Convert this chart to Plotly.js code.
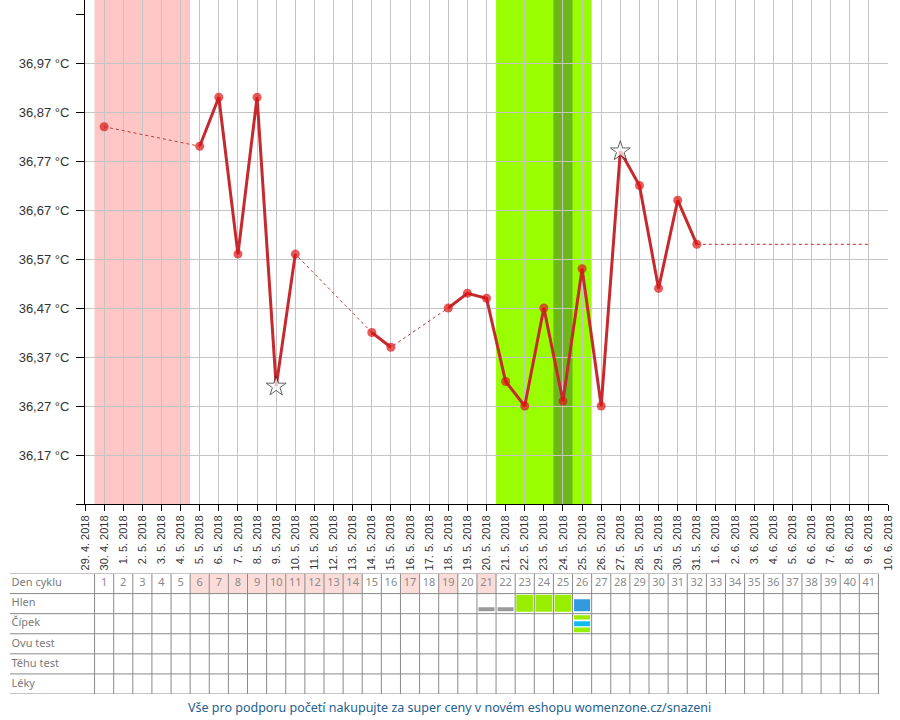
<!DOCTYPE html>
<html>
<head>
<meta charset="utf-8">
<script src="https://cdn.plot.ly/plotly-3.0.1.min.js"></script>
<style>
  html, body { margin: 0; padding: 0; background: #fff; }
  #chart { width: 900px; height: 720px; }
</style>
</head>
<body>
<div id="chart"></div>
<script>
// ---------- DATA ----------
const dayLabels = [
  '29. 4. 2018','30. 4. 2018',
  '1. 5. 2018','2. 5. 2018','3. 5. 2018','4. 5. 2018','5. 5. 2018','6. 5. 2018','7. 5. 2018',
  '8. 5. 2018','9. 5. 2018','10. 5. 2018','11. 5. 2018','12. 5. 2018','13. 5. 2018','14. 5. 2018',
  '15. 5. 2018','16. 5. 2018','17. 5. 2018','18. 5. 2018','19. 5. 2018','20. 5. 2018','21. 5. 2018',
  '22. 5. 2018','23. 5. 2018','24. 5. 2018','25. 5. 2018','26. 5. 2018','27. 5. 2018','28. 5. 2018',
  '29. 5. 2018','30. 5. 2018','31. 5. 2018',
  '1. 6. 2018','2. 6. 2018','3. 6. 2018','4. 6. 2018','5. 6. 2018','6. 6. 2018','7. 6. 2018',
  '8. 6. 2018','9. 6. 2018','10. 6. 2018'
];
// basal temperature per date (null = not measured)
const temps = [
  null, 36.84,
  null, null, null, null, 36.80, 36.90, 36.58,
  36.90, 36.31, 36.58, null, null, null, 36.42,
  36.39, null, null, 36.47, 36.50, 36.49, 36.32,
  36.27, 36.47, 36.28, 36.55, 36.27, 36.79, 36.72,
  36.51, 36.69, 36.60,
  null, null, null, null, null, null, null,
  null, null, null
];
const starDays = ['9. 5. 2018', '27. 5. 2018'];
const projectionEnd = '9. 6. 2018';

const yTickVals   = [36.07, 36.17, 36.27, 36.37, 36.47, 36.57, 36.67, 36.77, 36.87, 36.97];
const yTickLabels = ['', '36,17 °C', '36,27 °C', '36,37 °C', '36,47 °C', '36,57 °C', '36,67 °C', '36,77 °C', '36,87 °C', '36,97 °C'];
const yMinorTick  = [37.07];

const cycleDays = [1,2,3,4,5,6,7,8,9,10,11,12,13,14,15,16,17,18,19,20,
                   21,22,23,24,25,26,27,28,29,30,31,32,33,34,35,36,37,38,39,40,41];
const periodDays = [1,2,3,4,5];
const fertileDays = [22,23,24,25,26];
const ovulationDays = [25];
const markedDays = [6,7,8,9,10,11,12,13,14,17,19,21];   // pink cells in "Den cyklu"

const rowLabels = ['Den cyklu', 'Hlen', 'Čípek', 'Ovu test', 'Těhu test', 'Léky'];
const hlenDays  = [21, 22, 23, 24, 25, 26];
const hlenKinds = ['gray', 'gray', 'green', 'green', 'green', 'blue'];
const cipekDays  = [26];
const cipekKinds = [['green', 'cyan', 'green']];

const footerText = 'Vše pro podporu početí nakupujte za super ceny v novém eshopu womenzone.cz/snazeni';

// ---------- GEOMETRY / STYLE ----------
const W = 900, H = 720;
const margin = {l: 10, r: 12, t: 0, b: 26};
const paperW = W - margin.l - margin.r;
const paperH = H - margin.t - margin.b;
const plotLeftPx = 85;                 // y axis line position in page px
const plotBottomPx = 504;
const tableTopPx = 573.5;
const footerPx = 708;
const nIntervals = dayLabels.length - 1;
const mainDomainX0 = (plotLeftPx - margin.l) / paperW;
const pxPerDay = (paperW - (plotLeftPx - margin.l)) / nIntervals;
const tableLeft = -(plotLeftPx - margin.l) / pxPerDay;
const tableRight = cycleDays[cycleDays.length - 1] + 0.5;

const styleHlen = {
  gray:  {x: 0.42, y0: 0.68, y1: 0.88, color: '#9a9a9a'},
  green: {x: 0.44, y0: 0.06, y1: 0.90, color: '#99ee00'},
  blue:  {x: 0.42, y0: 0.28, y1: 0.88, color: '#3399dd'}
};
const cipekStripes = [[0.08, 0.29], [0.38, 0.63], [0.69, 0.93]];
const cipekColors = {green: '#99ee00', cyan: '#11bbee'};

// ---------- TRACES ----------
const measuredIdx = temps.map((v, i) => v == null ? -1 : i).filter(i => i >= 0);
const lastIdx = measuredIdx[measuredIdx.length - 1];

const dotted = {
  x: dayLabels, y: temps, type: 'scatter', mode: 'lines', connectgaps: true,
  line: {color: '#c03a3a', width: 1, dash: 'dot'}, hoverinfo: 'skip', showlegend: false
};
const projection = {
  x: [dayLabels[lastIdx], projectionEnd], y: [temps[lastIdx], temps[lastIdx]],
  type: 'scatter', mode: 'lines',
  line: {color: '#d85050', width: 1.3, dash: 'dot'}, hoverinfo: 'skip', showlegend: false
};
const solid = {
  x: dayLabels, y: temps, type: 'scatter', mode: 'lines', connectgaps: false,
  line: {color: '#c62a2e', width: 3}, hoverinfo: 'skip', showlegend: false
};
const mx = measuredIdx.map(i => dayLabels[i]);
const my = measuredIdx.map(i => temps[i]);
const isStar = mx.map(d => starDays.includes(d));
const markers = {
  x: mx, y: my, type: 'scatter', mode: 'markers', showlegend: false, hoverinfo: 'skip',
  marker: {
    symbol: isStar.map(s => s ? 'star' : 'circle'),
    size: isStar.map(s => s ? 15 : 9),
    color: isStar.map(s => s ? '#ffffff' : '#dd1414'),
    line: {color: isStar.map(s => s ? '#222222' : '#dd1414'), width: isStar.map(s => s ? 1 : 0)}
  }
};

const tableNumbers = {
  x: cycleDays, y: cycleDays.map(() => 0.5), text: cycleDays.map(String),
  type: 'scatter', mode: 'text', xaxis: 'x2', yaxis: 'y2',
  textfont: {family: 'Noto Sans, DejaVu Sans, sans-serif', size: 11, color: '#8a8a8a'},
  textposition: 'middle center', hoverinfo: 'skip', showlegend: false
};
const tableLabels = {
  x: rowLabels.map(() => tableLeft + 0.08), y: rowLabels.map((_, r) => r + 0.5), text: rowLabels,
  type: 'scatter', mode: 'text', xaxis: 'x2', yaxis: 'y2',
  textfont: {family: 'Noto Sans, DejaVu Sans, sans-serif', size: 11, color: '#7a7a7a'},
  textposition: 'middle right', hoverinfo: 'skip', showlegend: false
};

// ---------- SHAPES ----------
const shapes = [];
function band(days, color) {
  shapes.push({type: 'rect', xref: 'x', yref: 'y domain',
    x0: Math.min(...days) - 0.5, x1: Math.max(...days) + 0.5, y0: 0, y1: 1,
    fillcolor: color, line: {width: 0}, layer: 'below'});
}
band(periodDays, '#ffc6c6');
band(fertileDays, '#99ff00');
band(ovulationDays, '#6cb818');

markedDays.forEach(d => shapes.push({type: 'rect', xref: 'x2', yref: 'y2',
  x0: d - 0.5, x1: d + 0.5, y0: 0, y1: 1, fillcolor: '#fcdcd8', line: {width: 0}, layer: 'below'}));

hlenDays.forEach((d, i) => {
  const s = styleHlen[hlenKinds[i]];
  shapes.push({type: 'rect', xref: 'x2', yref: 'y2',
    x0: d - s.x, x1: d + s.x, y0: 1 + s.y0, y1: 1 + s.y1,
    fillcolor: s.color, line: {width: 0}});
});
cipekDays.forEach((d, i) => {
  cipekKinds[i].forEach((k, j) => shapes.push({type: 'rect', xref: 'x2', yref: 'y2',
    x0: d - 0.42, x1: d + 0.42, y0: 2 + cipekStripes[j][0], y1: 2 + cipekStripes[j][1],
    fillcolor: cipekColors[k], line: {width: 0}}));
});

for (let r = 0; r <= rowLabels.length; r++) {
  shapes.push({type: 'line', xref: 'x2', yref: 'y2', x0: tableLeft, x1: tableRight, y0: r, y1: r,
    line: {color: '#8a8a8a', width: 1}});
}
cycleDays.concat([cycleDays[cycleDays.length - 1] + 1]).forEach(d => shapes.push({
  type: 'line', xref: 'x2', yref: 'y2', x0: d - 0.5, x1: d - 0.5, y0: 0, y1: rowLabels.length,
  line: {color: '#8a8a8a', width: 1}}));

// ---------- LAYOUT ----------
const axisFont = {family: 'Liberation Sans, Arial, sans-serif', color: '#333'};
const layout = {
  width: W, height: H, margin: margin,
  paper_bgcolor: '#ffffff', plot_bgcolor: 'rgba(0,0,0,0)',
  showlegend: false,
  xaxis: {
    type: 'category', categoryorder: 'array', categoryarray: dayLabels,
    domain: [mainDomainX0, 1], range: [0, nIntervals], anchor: 'y',
    tickmode: 'array', tickvals: dayLabels, ticktext: dayLabels, tickangle: -90,
    ticks: 'outside', ticklen: 6, tickcolor: '#000', tickwidth: 1,
    showline: true, linecolor: '#000', linewidth: 1,
    showgrid: true, gridcolor: '#c4c4c4', gridwidth: 1, zeroline: false,
    tickfont: Object.assign({size: 11}, axisFont), fixedrange: true
  },
  yaxis: {
    domain: [(paperH - plotBottomPx + margin.t) / paperH, 1], anchor: 'x',
    range: [36.07, 36.07 + plotBottomPx / 490],
    tickmode: 'array', tickvals: yTickVals, ticktext: yTickLabels,
    ticks: 'outside', ticklen: 8, tickcolor: '#000', tickwidth: 1,
    minor: {tickmode: 'array', tickvals: yMinorTick, ticks: 'outside', ticklen: 8, tickcolor: '#000', showgrid: false},
    showline: true, linecolor: '#000', linewidth: 1,
    showgrid: true, gridcolor: '#c4c4c4', gridwidth: 1, zeroline: false,
    tickfont: Object.assign({size: 13}, axisFont), ticklabelstandoff: 4, fixedrange: true
  },
  xaxis2: {domain: [0, 1], range: [tableLeft, nIntervals], anchor: 'y2', visible: false, fixedrange: true},
  yaxis2: {domain: [0, (paperH - tableTopPx + margin.t) / paperH], range: [rowLabels.length, 0],
           anchor: 'x2', visible: false, fixedrange: true},
  shapes: shapes,
  annotations: [{
    text: footerText, xref: 'paper', yref: 'paper', x: 0.5, y: -(footerPx - (margin.t + paperH)) / paperH,
    xanchor: 'center', yanchor: 'middle', showarrow: false,
    font: {family: 'Noto Sans, DejaVu Sans, sans-serif', size: 12.5, color: '#24608f'}
  }]
};

Plotly.newPlot('chart', [dotted, projection, solid, markers, tableNumbers, tableLabels], layout,
  {staticPlot: true, displayModeBar: false});
</script>
</body>
</html>
